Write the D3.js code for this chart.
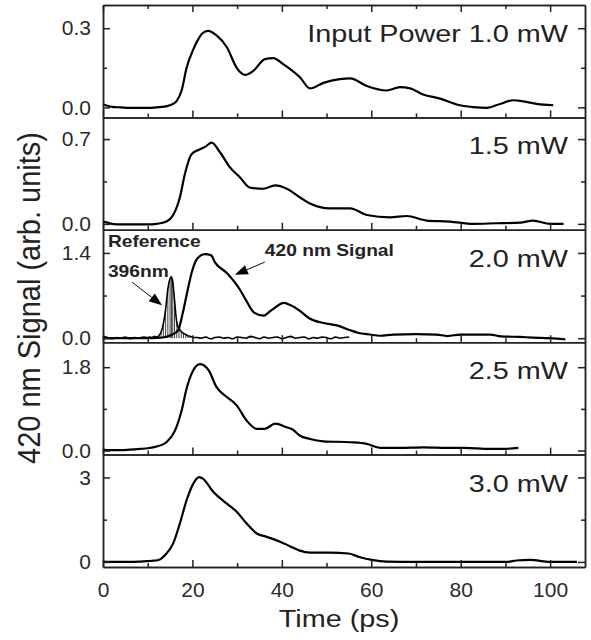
<!DOCTYPE html>
<html lang="en">
<head>
<meta charset="UTF-8"/>
<title>420 nm Signal vs Time</title>
<script src="https://d3js.org/d3.v7.min.js"></script>
<style>
	body { margin: 0; background: #fff; }
	svg { font-family: "Liberation Sans", Arial, sans-serif; }
	.axis path, .axis line { stroke: #222; stroke-width: 1.5; }
	.axis text { font-size: 21px; fill: #2a2a2a; font-family: "Liberation Sans", Arial, sans-serif; }
</style>
</head>
<body>
<script>

	// panel labels and y axis ticks
	var panelLabels = ["Input Power 1.0 mW", "1.5 mW", "2.0 mW", "2.5 mW", "3.0 mW"];
	var yMin = [-0.038, -0.049, -0.066, -0.087, -0.18];
	var yMax = [0.388, 0.879, 1.78, 2.34, 3.81];
	var yMajor = [[0, 0.3], [0, 0.7], [0, 1.4], [0, 1.8], [0, 3]];
	var yMinor = [[0.15], [0.35], [0.7], [0.9], [1.5]];
	var yFormat = [".1f", ".1f", ".1f", ".1f", "d"];

	var xMajor = [0, 20, 40, 60, 80, 100];
	var xMinor = [10, 30, 50, 70, 90];

	// 420 nm signal, one series per input power
	var p1T = [0,1,2,4,6,8,10,12,14,15.5,16.5,17.6,18.7,20.2,21.2,22.2,23.5,25.4,27.7,29.9,31.8,33.6,36.2,38.1,40.3,41.8,44,46.3,49.3,53,55.3,59,63.5,66.4,68.7,71.6,75.4,79.1,82.8,85.8,88.8,91.8,94,97,100.7];
	var p1V = [0.012,0.006,0.002,0,-0.002,-0.002,-0.002,0,0.004,0.012,0.025,0.065,0.15,0.22,0.255,0.28,0.29,0.273,0.228,0.15,0.123,0.138,0.183,0.187,0.164,0.146,0.115,0.072,0.093,0.107,0.11,0.081,0.064,0.077,0.072,0.049,0.033,0.011,0.001,-0.002,0.013,0.027,0.023,0.013,0.008];

	var p2T = [0,1,2,4,6,8,10,12,14.2,15.7,17.2,18.3,19.8,21.7,23,24.3,26.2,28.4,30.6,32.9,35.9,38.5,41.1,44,46.3,50.8,55.3,59,64.2,67.9,72.4,77.6,82.8,88,93.3,96.2,100,103];
	var p2V = [0.02,0.01,0,-0.005,-0.005,-0.005,-0.005,0,0.019,0.073,0.22,0.41,0.575,0.616,0.64,0.67,0.589,0.466,0.385,0.299,0.29,0.317,0.29,0.22,0.168,0.128,0.128,0.073,0.054,0.065,0.027,0.019,0,0.005,0.01,0.027,0,0];

	var p3T = [0,2,4,6,8,10,12,14,15.5,16.8,17.8,18.7,20,21,22.8,24.2,25,27.7,30.6,32,33.8,35.9,37.5,40.5,42,44,46.3,49.3,52.3,55.3,57,59.7,62,65,70,74.6,77,80,86.6,89,93.3,96,100,103.4];
	var p3V = [0,0,0,0,0,0,0.005,0.02,0.06,0.13,0.4,0.71,1.12,1.3,1.38,1.36,1.25,1.07,0.8,0.62,0.42,0.37,0.45,0.58,0.54,0.45,0.32,0.25,0.21,0.13,0.09,0.06,0.04,0.06,0.065,0.06,0.035,0.06,0.06,0.03,0.02,0.01,0,-0.02];

	var p4T = [0,2,4,6,8.3,10,12,14.2,16.1,17.6,18.7,20.2,21.7,23.6,25.4,27.7,29.9,32.1,34.4,36.2,38.5,41,42.5,44,46.3,49.3,55.3,59,62,66.4,71.7,76.9,80.6,86.6,89.6,92.9];
	var p4V = [0.015,0.01,0.01,0.02,0.036,0.05,0.087,0.18,0.43,0.87,1.34,1.735,1.865,1.735,1.37,1.156,0.976,0.65,0.47,0.47,0.58,0.505,0.45,0.325,0.25,0.2,0.18,0.145,0.06,0.06,0.07,0.06,0.06,0.036,0.036,0.06];

	var p5T = [0,2,4,6,8,9.8,11,12.4,14.2,15.7,17.2,18.7,20.2,21.5,22.4,24.7,27.7,29.9,32.1,34.4,36.6,39.6,41.8,44,46.3,50.8,54.9,57.5,60.1,63.5,70,80,90.3,92.5,95.5,100,106];
	var p5V = [0,0,0,0,0.01,0.03,0.04,0.07,0.3,0.66,1.37,2.19,2.78,3.01,2.95,2.48,2.07,1.78,1.37,1.01,0.89,0.72,0.56,0.4,0.33,0.33,0.3,0.165,0.07,0.01,0,0,0,0.05,0.07,0,0];

	var seriesT = [p1T, p2T, p3T, p4T, p5T];
	var seriesV = [p1V, p2V, p3V, p4V, p5V];

	// 396 nm reference pulse (drawn in the 2.0 mW panel)
	var refT = [0,1,2,3,4,5,6,7,8,9,10,10.5,11,11.5,12,12.5,13,13.5,14,14.5,15,15.3,15.6,16,16.5,17,17.5,18,18.5,19,19.5,20,20.5,21,22,23,24,25,26,27,28,29,30,31,32,33,34,35,36,37,38,39,40,41,42,43,44,45,46,47,48,49,50,51,52,53,54,55];
	var refV = [0.03,0.01,-0.01,0.01,0,0.02,-0.01,0.01,0,0.02,0.01,0.02,0.01,0.03,0.02,0.04,0.1,0.24,0.47,0.8,0.98,1.01,0.93,0.62,0.26,0.16,0.11,0.08,0.06,0.04,0.03,0.02,0.01,0.01,0,0.02,-0.01,0.01,0.02,0,0.01,-0.01,0.02,0.01,0,0.03,0.01,-0.01,0.02,0,0.01,0.02,-0.01,0.01,0.03,0,0.01,0.02,-0.01,0.01,0,0.02,0.01,-0.01,0.02,0,0.01,0.02];

	// annotations in the 2.0 mW panel, data coordinates
	var noteText = ["Reference", "396nm", "420 nm Signal"];
	var noteT = [1.1, 1.1, 36.2];
	var noteV = [1.5, 1.0, 1.35];
	var arrowFrom = [[6.5, 0.92], [36.2, 1.25]];
	var arrowTo = [[13.2, 0.54], [29.5, 1.04]];

	var w = 591;
	var h = 640;
	var padLeft = 103, padRight = 585, padTop = 5;
	var panelH = 112.4;

	var svg = d3.select("body")
				.append("svg")
				.attr("width", w)
				.attr("height", h);

	var xScale = d3.scaleLinear()
				.domain([0, 107.8])
				.range([padLeft, padRight]);

	// text drawn a bit wider than the font, like the original picture
	function wideText(sel, str, x, y, size, sx, anchor, weight) {
		return sel.append("text")
			.attr("transform", "translate(" + x + "," + y + ") scale(" + sx + ",1)")
			.attr("text-anchor", anchor)
			.attr("font-size", size)
			.attr("font-weight", weight || "normal")
			.attr("fill", "#222")
			.text(str);
	}

	var line = d3.line().curve(d3.curveMonotoneX);

	for (var i = 0; i < 5; i++) {
		var y0 = padTop + i * panelH;
		var y1 = y0 + panelH;
		var yScale = d3.scaleLinear()
					.domain([yMin[i], yMax[i]])
					.range([y1, y0]);

		var g = svg.append("g");

		// curve
		var pts = seriesT[i].map(function(t, k) { return [xScale(t), yScale(seriesV[i][k])]; });

		if (i == 2) {
			// reference drop lines + curve
			g.selectAll("line.drop")
				.data(refT)
				.enter()
				.append("line")
				.attr("class", "drop")
				.attr("x1", function(d) { return xScale(d); })
				.attr("x2", function(d) { return xScale(d); })
				.attr("y1", yScale(0))
				.attr("y2", function(d, k) { return yScale(refV[k]); })
				.attr("stroke", "#111")
				.attr("stroke-width", 0.8);

			var refPts = refT.map(function(t, k) { return [xScale(t), yScale(refV[k])]; });
			g.append("path")
				.attr("d", line(refPts))
				.attr("fill", "none")
				.attr("stroke", "#000")
				.attr("stroke-width", 1.6);
		}

		g.append("path")
			.attr("d", line(pts))
			.attr("fill", "none")
			.attr("stroke", "#000")
			.attr("stroke-width", 2.2)
			.attr("stroke-linejoin", "round");

		// axes, ticks pointing inward
		g.append("g").attr("class", "axis")
			.attr("transform", "translate(" + padLeft + ",0)")
			.call(d3.axisLeft(yScale).tickValues(yMajor[i]).tickSize(-7).tickSizeOuter(0)
				.tickPadding(12).tickFormat(d3.format(yFormat[i])));
		g.append("g").attr("class", "axis")
			.attr("transform", "translate(" + padLeft + ",0)")
			.call(d3.axisLeft(yScale).tickValues(yMinor[i]).tickSize(-4).tickSizeOuter(0).tickFormat(""));
		g.append("g").attr("class", "axis")
			.attr("transform", "translate(" + padRight + ",0)")
			.call(d3.axisRight(yScale).tickValues(yMajor[i]).tickSize(-7).tickSizeOuter(0).tickFormat(""));
		g.append("g").attr("class", "axis")
			.attr("transform", "translate(" + padRight + ",0)")
			.call(d3.axisRight(yScale).tickValues(yMinor[i]).tickSize(-4).tickSizeOuter(0).tickFormat(""));

		g.append("g").attr("class", "axis")
			.attr("transform", "translate(0," + y1 + ")")
			.call(d3.axisBottom(xScale).tickValues(xMajor).tickSize(-7).tickSizeOuter(0)
				.tickPadding(15).tickFormat(i == 4 ? d3.format("d") : ""));
		g.append("g").attr("class", "axis")
			.attr("transform", "translate(0," + y1 + ")")
			.call(d3.axisBottom(xScale).tickValues(xMinor).tickSize(-4).tickSizeOuter(0).tickFormat(""));

		if (i == 0) {
			g.append("g").attr("class", "axis")
				.attr("transform", "translate(0," + y0 + ")")
				.call(d3.axisTop(xScale).tickValues(xMajor).tickSize(-7).tickSizeOuter(0).tickFormat(""));
			g.append("g").attr("class", "axis")
				.attr("transform", "translate(0," + y0 + ")")
				.call(d3.axisTop(xScale).tickValues(xMinor).tickSize(-4).tickSizeOuter(0).tickFormat(""));
		}

		wideText(g, panelLabels[i], 568, y0 + 37, 24, 1.2, "end");

		if (i == 2) {
			for (var n = 0; n < noteText.length; n++) {
				wideText(g, noteText[n], xScale(noteT[n]), yScale(noteV[n]), 16, 1.2, "start", "bold");
			}
			for (var a = 0; a < arrowFrom.length; a++) {
				var xa = xScale(arrowFrom[a][0]), ya = yScale(arrowFrom[a][1]);
				var xb = xScale(arrowTo[a][0]), yb = yScale(arrowTo[a][1]);
				var ang = Math.atan2(yb - ya, xb - xa);
				var hl = 13, hw = 5;
				var bx = xb - hl * Math.cos(ang), by = yb - hl * Math.sin(ang);
				g.append("line")
					.attr("x1", xa).attr("y1", ya)
					.attr("x2", bx).attr("y2", by)
					.attr("stroke", "#111")
					.attr("stroke-width", 1);
				g.append("path")
					.attr("d", "M" + xb + "," + yb +
						"L" + (bx + hw * Math.sin(ang)) + "," + (by - hw * Math.cos(ang)) +
						"L" + (bx - hw * Math.sin(ang)) + "," + (by + hw * Math.cos(ang)) + "Z")
					.attr("fill", "#000");
			}
		}
	}

	// axis titles
	wideText(svg, "Time (ps)", 339, 627, 24, 1.2, "middle");

	svg.append("text")
		.attr("transform", "translate(40,298) scale(1.09,1) rotate(-90)")
		.attr("text-anchor", "middle")
		.attr("font-size", 29)
		.attr("fill", "#222")
		.text("420 nm Signal (arb. units)");

</script>
</body>
</html>
